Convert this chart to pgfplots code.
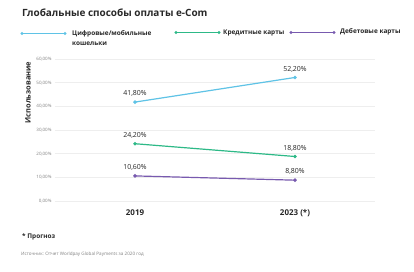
\documentclass[border=0pt]{standalone}
\usepackage{pgfplots}
\pgfplotsset{compat=1.18}
\usepackage{fontspec}
\setmainfont{Open Sans}
\definecolor{cblue}{RGB}{95,195,230}
\definecolor{cgreen}{RGB}{45,185,135}
\definecolor{cpurple}{RGB}{120,90,175}
\definecolor{gridc}{RGB}{238,238,238}
\definecolor{txt}{RGB}{40,40,40}
\begin{document}
\begin{tikzpicture}[x=1bp,y=1bp]
\path[fill=white] (0,0) rectangle (414,272);
% title
\node[anchor=west, font=\bfseries\fontsize{10}{12}\selectfont, text=txt, inner sep=0] at (22,259) {Глобальные способы оплаты e-Com};
% legend
\draw[cblue, line width=1.3pt] (22,238.5) -- (65,238.5);
\fill[cblue] (22,238.5) circle (1.6); \fill[cblue] (65,238.5) circle (1.6);
\node[anchor=north west, align=left, font=\bfseries\fontsize{6.5}{10}\selectfont, text=txt, inner sep=0] at (72,242) {Цифровые/мобильные\\кошельки};
\draw[cgreen, line width=1.3pt] (176,239.5) -- (219,239.5);
\fill[cgreen] (176,239.5) circle (1.6); \fill[cgreen] (219,239.5) circle (1.6);
\node[anchor=west, font=\bfseries\fontsize{6.5}{8}\selectfont, text=txt, inner sep=0] at (223,239.5) {Кредитные карты};
\draw[cpurple, line width=1.3pt] (291,239.5) -- (334,239.5);
\fill[cpurple] (291,239.5) circle (1.6); \fill[cpurple] (334,239.5) circle (1.6);
\node[anchor=west, font=\bfseries\fontsize{6.5}{8}\selectfont, text=txt, inner sep=0] at (340,240) {Дебетовые карты};
% y label
\node[rotate=90, font=\bfseries\fontsize{7.5}{9}\selectfont, text=txt, inner sep=0] at (28,179.5) {Использование};
% footnotes
\node[anchor=west, font=\bfseries\fontsize{6.5}{8}\selectfont, text=txt, inner sep=0] at (22,35) {* Прогноз};
\node[anchor=west, font=\fontsize{4.6}{6}\selectfont, text=gray, inner sep=0] at (21,18) {Источник: Отчет Worldpay Global Payments за 2020 год};
\begin{axis}[
  at={(55bp,71bp)}, anchor=south west, scale only axis,
  width=320bp, height=142bp,
  xmin=-0.5, xmax=1.5, ymin=0, ymax=60,
  axis line style={draw=none},
  tick style={draw=none},
  xtick={0,1}, xticklabels={2019,{2023 (*)}},
  xticklabel style={font=\bfseries\fontsize{8}{9}\selectfont, text=txt, anchor=center, yshift=-12bp},
  ytick={0,10,...,60},
  yticklabels={{0,00\%},{10,00\%},{20,00\%},{30,00\%},{40,00\%},{50,00\%},{60,00\%}},
  yticklabel style={font=\fontsize{4.5}{5}\selectfont, text=gray},
  ymajorgrids, grid style={gridc, line width=0.8pt},
  clip=false,
  point meta=explicit symbolic,
  nodes near coords,
  every node near coord/.append style={font=\fontsize{7}{8}\selectfont, text=txt, anchor=south, yshift=1.5bp},
]
\addplot[cblue, line width=1.2pt, mark=*, mark size=1.1pt] coordinates {(0,41.8) [41,80\%] (1,52.2) [52,20\%]};
\addplot[cgreen, line width=1.2pt, mark=*, mark size=1.1pt] coordinates {(0,24.2) [24,20\%] (1,18.8) [18,80\%]};
\addplot[cpurple, line width=1.2pt, mark=*, mark size=1.1pt] coordinates {(0,10.6) [10,60\%] (1,8.8) [8,80\%]};
\end{axis}
\end{tikzpicture}
\end{document}
